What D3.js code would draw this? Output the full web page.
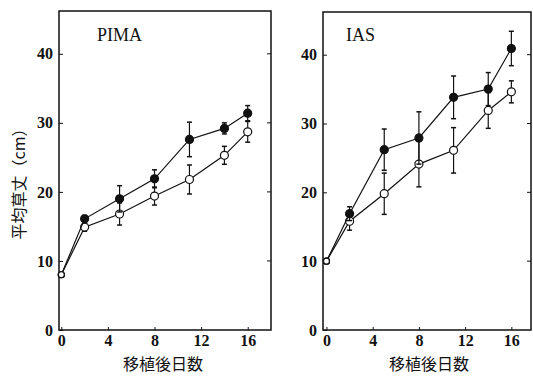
<!DOCTYPE html>
<html>
<head>
<meta charset="utf-8">
<script src="https://cdn.jsdelivr.net/npm/d3@7"></script>
<style>
  body { margin: 0; background: #fff; }
  text { fill: #111; }
</style>
</head>
<body>
<div id="holder"></div>
<script>
// days after transplanting
var days = [0, 2, 5, 8, 11, 14, 16];
var yTicks = [0, 10, 20, 30, 40];
var xTicks = [0, 4, 8, 12, 16];

// PIMA: filled / open series, mean and +- error
var pimaFilled = [8.0, 16.1, 19.0, 21.9, 27.6, 29.2, 31.4];
var pimaFilledErr = [0, 0.5, 1.9, 1.3, 2.5, 0.8, 1.1];
var pimaOpen = [8.0, 14.9, 16.8, 19.4, 21.8, 25.3, 28.7];
var pimaOpenErr = [0, 0.6, 1.6, 1.3, 2.1, 1.3, 1.5];

// IAS
var iasFilled = [10.0, 16.9, 26.2, 27.9, 33.8, 35.0, 40.9];
var iasFilledErr = [0, 1.0, 3.0, 3.8, 3.1, 2.4, 2.5];
var iasOpen = [10.0, 15.8, 19.8, 24.1, 26.1, 31.9, 34.6];
var iasOpenErr = [0, 1.3, 3.0, 3.3, 3.3, 2.6, 1.6];

var W = 533, H = 376;
var svg = d3.select("#holder").append("svg")
    .attr("width", W).attr("height", H);

var numFont = "'Liberation Serif', 'DejaVu Serif', serif";
var cjkFont = "'Noto Sans CJK JP', sans-serif";

function panel(name, box, xdom, filled, filledErr, open, openErr, labelX) {
  var x = d3.scaleLinear().domain(xdom).range([box.left, box.right]);
  var y = d3.scaleLinear().domain([0, 46.2]).range([box.bottom, box.top]);
  var g = svg.append("g");

  // frame
  g.append("rect")
    .attr("x", box.left).attr("y", box.top)
    .attr("width", box.right - box.left).attr("height", box.bottom - box.top)
    .attr("fill", "none").attr("stroke", "#111").attr("stroke-width", 1.5);

  // y axis (ticks inward)
  var ya = g.append("g").attr("transform", "translate(" + box.left + ",0)")
    .call(d3.axisLeft(y).tickValues(yTicks).tickSize(-4).tickPadding(6));
  ya.select(".domain").remove();
  ya.selectAll("text").attr("font-family", numFont).attr("font-size", 16)
    .attr("font-weight", "bold").attr("fill", "#111");
  ya.selectAll("line").attr("stroke", "#111");

  // right side ticks
  g.append("g").selectAll("line").data(yTicks.slice(1)).enter().append("line")
    .attr("x1", box.right - 4).attr("x2", box.right)
    .attr("y1", function(d) { return y(d); }).attr("y2", function(d) { return y(d); })
    .attr("stroke", "#111");

  // x axis
  var xa = g.append("g").attr("transform", "translate(0," + box.bottom + ")")
    .call(d3.axisBottom(x).tickValues(xTicks).tickSize(-3).tickPadding(5));
  xa.select(".domain").remove();
  xa.selectAll("text").attr("font-family", numFont).attr("font-size", 16)
    .attr("font-weight", "bold").attr("fill", "#111");
  xa.selectAll("line").attr("stroke", "#111");

  // x title
  g.append("text")
    .attr("x", labelX).attr("y", 370)
    .attr("text-anchor", "middle")
    .attr("font-family", cjkFont).attr("font-size", 16)
    .text("移植後日数");

  // panel name
  g.append("text")
    .attr("x", box.left + (name == "PIMA" ? 38 : 23)).attr("y", 41)
    .attr("font-family", numFont).attr("font-size", 18)
    .text(name);

  var line = d3.line().x(function(d, i) { return x(days[i]); }).y(function(d) { return y(d); });

  function series(vals, errs, fill) {
    var s = g.append("g");
    s.append("path").datum(vals).attr("d", line)
      .attr("fill", "none").attr("stroke", "#111").attr("stroke-width", 1.2);
    var idx = d3.range(vals.length).filter(function(i) { return errs[i] > 0; });
    var eb = s.selectAll(".eb").data(idx).enter().append("g");
    eb.append("line")
      .attr("x1", function(i) { return x(days[i]); })
      .attr("x2", function(i) { return x(days[i]); })
      .attr("y1", function(i) { return y(vals[i] - errs[i]); })
      .attr("y2", function(i) { return y(vals[i] + errs[i]); })
      .attr("stroke", "#111").attr("stroke-width", 1.2);
    [-1, 1].forEach(function(sg) {
      eb.append("line")
        .attr("x1", function(i) { return x(days[i]) - 2.5; })
        .attr("x2", function(i) { return x(days[i]) + 2.5; })
        .attr("y1", function(i) { return y(vals[i] + sg * errs[i]); })
        .attr("y2", function(i) { return y(vals[i] + sg * errs[i]); })
        .attr("stroke", "#111").attr("stroke-width", 1.5);
    });
    s.selectAll("circle").data(vals).enter().append("circle")
      .attr("cx", function(d, i) { return x(days[i]); })
      .attr("cy", function(d) { return y(d); })
      .attr("r", function(d, i) { return i == 0 ? 3 : 4; })
      .attr("fill", fill).attr("stroke", "#111").attr("stroke-width", 1.2);
  }
  series(open, openErr, "#fff");
  series(filled, filledErr, "#111");
  // first point is shared and drawn open
  g.append("circle").attr("cx", x(days[0])).attr("cy", y(open[0])).attr("r", 3)
    .attr("fill", "#fff").attr("stroke", "#111").attr("stroke-width", 1.2);
}

panel("PIMA", {left: 59, right: 271, top: 11, bottom: 330}, [-0.2, 18.0],
      pimaFilled, pimaFilledErr, pimaOpen, pimaOpenErr, 163);
panel("IAS", {left: 323, right: 531, top: 12, bottom: 330}, [-0.3, 17.7],
      iasFilled, iasFilledErr, iasOpen, iasOpenErr, 429);

// y title
svg.append("text")
  .attr("transform", "translate(25,180) rotate(-90)")
  .attr("text-anchor", "middle")
  .attr("font-family", cjkFont).attr("font-size", 16)
  .text("平均草丈（cm）");
</script>
</body>
</html>
